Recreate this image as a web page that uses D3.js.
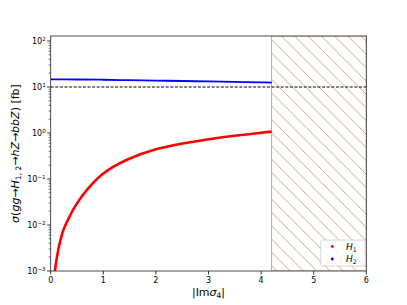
<!DOCTYPE html>
<html><head><meta charset="utf-8">
<script src="https://cdn.jsdelivr.net/npm/d3@7"></script>
<style>body{margin:0;background:#fff}svg{display:block}text{font-family:"DejaVu Sans",sans-serif}</style>
</head><body>
<script>
// Data
const h1X = [0.07, 0.08, 0.11, 0.16, 0.24, 0.34, 0.46, 0.70, 1.0, 1.44, 2.0, 3.0, 4.0, 4.2];
const h1Y = [0.000794, 0.001, 0.00174, 0.00355, 0.00776, 0.0138, 0.0251, 0.0603, 0.132, 0.259, 0.443, 0.730, 1.016, 1.072];
const h2X = [0.0, 0.5, 1.0, 1.5, 2.0, 2.5, 3.0, 3.5, 4.0, 4.2];
const h2Y = [14.7, 14.55, 14.4, 14.06, 13.8, 13.5, 13.2, 12.9, 12.6, 12.5];
const refLine = 10;
const excludedFrom = 4.2;
const xTicks = [0, 1, 2, 3, 4, 5, 6];
const yExps = [-3, -2, -1, 0, 1, 2];
const legendLabels = ["1", "2"];

const W = 407, H = 305;
const L = 50.7, R = 366.3, T = 36, B = 271;
const svg = d3.select("body").append("svg").attr("width", W).attr("height", H);
const x = d3.scaleLinear().domain([0, 6]).range([L, R]);
const y = d3.scaleLog().domain([1e-3, Math.pow(10, 2.109)]).range([B, T]);

const defs = svg.append("defs");
defs.append("clipPath").attr("id", "clip").append("rect")
  .attr("x", L).attr("y", T).attr("width", R - L).attr("height", B - T);
const s = 13.3;
const hatchColor = "#cc9a82";
const pat = defs.append("pattern").attr("id", "hatch").attr("patternUnits", "userSpaceOnUse")
  .attr("width", s).attr("height", s).attr("x", 2).attr("y", T);
pat.append("path").attr("d", `M0,0L${s},${s}M${-s/2},${s/2}L${s/2},${s*1.5}M${s/2},${-s/2}L${s*1.5},${s/2}`)
  .attr("stroke", hatchColor).attr("stroke-width", 0.9).attr("fill", "none");

const g = svg.append("g").attr("clip-path", "url(#clip)");
// hatched region
g.append("rect").attr("x", x(excludedFrom)).attr("y", T).attr("width", x(6) - x(excludedFrom)).attr("height", B - T)
  .attr("fill", "url(#hatch)").attr("stroke", hatchColor).attr("stroke-width", 0.9);

// reference line
g.append("line").attr("x1", L).attr("x2", R).attr("y1", y(refLine)).attr("y2", y(refLine))
  .attr("stroke", "#000").attr("stroke-width", 1).attr("stroke-dasharray", "3,1.6");

const line = d3.line().x(d => x(d[0])).y(d => y(d[1])).curve(d3.curveCatmullRom.alpha(0.5));
g.append("path").datum(h2X.map((v, i) => [v, h2Y[i]])).attr("d", line)
  .attr("fill", "none").attr("stroke", "#0000ff").attr("stroke-width", 1.8);
g.append("path").datum(h1X.map((v, i) => [v, h1Y[i]])).attr("d", line)
  .attr("fill", "none").attr("stroke", "#ff0000").attr("stroke-width", 2.6);

// axes ticks
const ax = svg.append("g");
xTicks.forEach(t => {
  ax.append("line").attr("x1", x(t)).attr("x2", x(t)).attr("y1", B).attr("y2", B + 3.5).attr("stroke", "#000").attr("stroke-width", 0.8);
  ax.append("text").attr("x", x(t)).attr("y", 282.5).attr("text-anchor", "middle").attr("font-size", 8).text(t);
});
yExps.forEach(e => {
  const yy = y(Math.pow(10, e));
  ax.append("line").attr("x1", L - 3.5).attr("x2", L).attr("y1", yy).attr("y2", yy).attr("stroke", "#000").attr("stroke-width", 0.8);
  const t = ax.append("text").attr("x", L - 5).attr("y", yy + 3).attr("text-anchor", "end").attr("font-size", 8);
  t.append("tspan").text("10");
  t.append("tspan").attr("dy", -3.5).attr("font-size", 5.6).text(e < 0 ? "\u2212" + (-e) : e);
});
for (let e = -3; e <= 2; e++) {
  for (let m = 2; m <= 9; m++) {
    const v = m * Math.pow(10, e);
    if (v > y.domain()[1]) continue;
    const yy = y(v);
    ax.append("line").attr("x1", L - 2).attr("x2", L).attr("y1", yy).attr("y2", yy).attr("stroke", "#000").attr("stroke-width", 0.6);
  }
}
// frame
svg.append("rect").attr("x", L).attr("y", T).attr("width", R - L).attr("height", B - T)
  .attr("fill", "none").attr("stroke", "#222").attr("stroke-width", 0.8);

// axis labels
const xl = svg.append("text").attr("x", (L + R) / 2).attr("y", 296).attr("text-anchor", "middle").attr("font-size", 11);
xl.append("tspan").text("|Im");
xl.append("tspan").attr("font-style", "italic").text("σ");
xl.append("tspan").attr("font-size", 7.5).attr("dy", 2).text("4");
xl.append("tspan").attr("dy", -2).text("|");

const yl = svg.append("text").attr("transform", `translate(19,${(T + B) / 2}) rotate(-90)`).attr("text-anchor", "middle").attr("font-size", 11);
yl.append("tspan").attr("font-style", "italic").text("σ");
yl.append("tspan").text("(");
yl.append("tspan").attr("font-style", "italic").text("gg");
yl.append("tspan").text("→");
yl.append("tspan").attr("font-style", "italic").text("H");
yl.append("tspan").attr("font-size", 7.5).attr("dy", 2).text("1, 2");
yl.append("tspan").attr("dy", -2).text("→");
yl.append("tspan").attr("font-style", "italic").text("hZ");
yl.append("tspan").text("→");
yl.append("tspan").attr("font-style", "italic").text("bbZ");
yl.append("tspan").text(") [fb]");

// legend
const lg = svg.append("g");
lg.append("rect").attr("x", 320.7).attr("y", 240).attr("width", 44.5).attr("height", 26).attr("rx", 2)
  .attr("fill", "#fff").attr("fill-opacity", 0.8).attr("stroke", "#ccc").attr("stroke-width", 0.8);
const colors = ["#ff0000", "#0000ff"];
legendLabels.forEach((lab, i) => {
  const yy = 246.5 + i * 12.5;
  lg.append("circle").attr("cx", 332.3).attr("cy", yy).attr("r", 1.4).attr("fill", colors[i]);
  const t = lg.append("text").attr("x", 346).attr("y", yy + 3.2).attr("font-size", 9);
  t.append("tspan").attr("font-style", "italic").text("H");
  t.append("tspan").attr("font-size", 6.3).attr("dy", 2).text(lab);
});
</script>
</body></html>
